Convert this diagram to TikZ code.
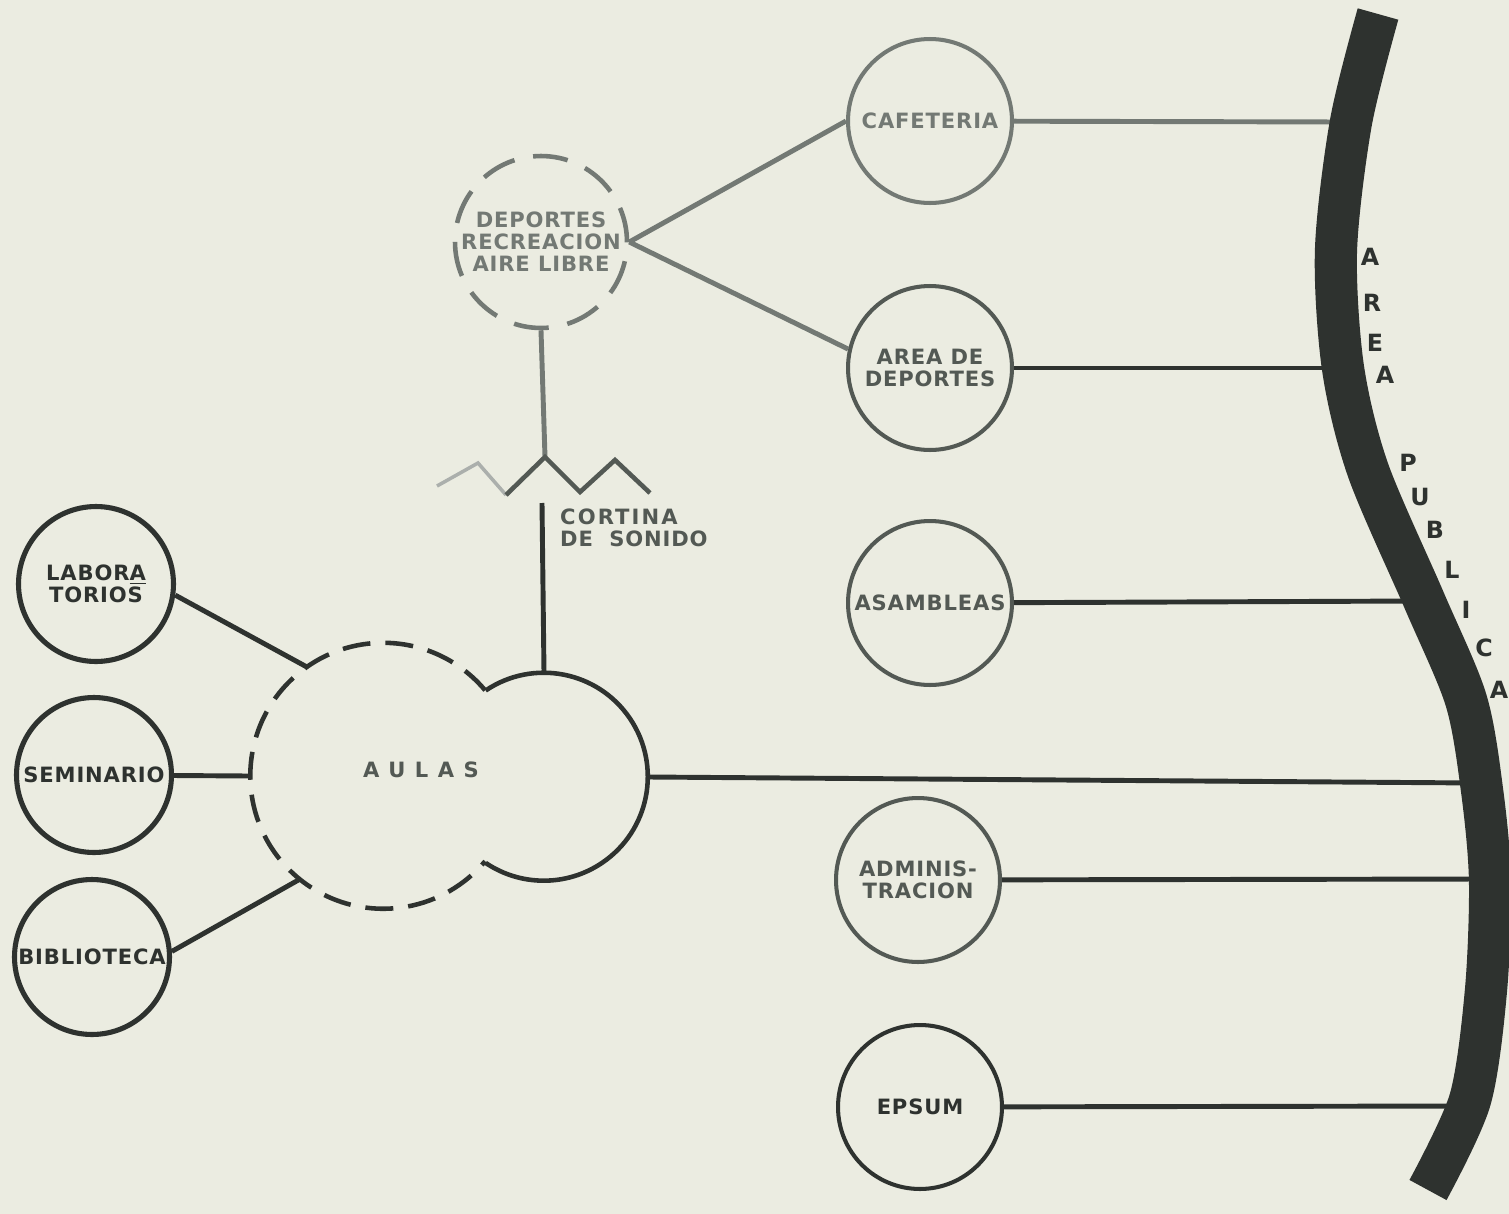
\documentclass[tikz,border=0pt]{standalone}
\usepackage{fontspec}
\setmainfont{DejaVu Sans}
\newfontfamily\stencil{DejaVu Sans}[LetterSpace=4]
\usetikzlibrary{positioning}
\definecolor{paper}{HTML}{EBECE1}
\definecolor{ink}{HTML}{2E322F}
\definecolor{inkgrey}{HTML}{535954}
\definecolor{inklight}{HTML}{737974}

\begin{document}
\begin{tikzpicture}[x=0.02cm,y=-0.02cm,
every node/.style={font=\stencil\bfseries\fontsize{12}{12.5}\selectfont},
room/.style={circle,draw=inkgrey,line width=2.3pt,minimum size=3.28cm,inner sep=0pt,align=center,text=inkgrey},
wing/.style={room,draw=ink,line width=2.9pt,minimum size=3.1cm,text=ink},
openroom/.style={room,draw=inklight,line width=2.6pt,dash pattern=on 0.7cm off 0.38cm,minimum size=3.44cm,text=inklight},
ghost/.style={circle,inner sep=0pt,draw=none},
link/.style={draw=ink,line width=2.8pt},
faint/.style={draw=inklight,line width=2.8pt},
ring/.style={draw=ink,line width=2.6pt},
dashring/.style={ring,dash pattern=on 0.56cm off 0.3cm},
publine/.style={draw=ink,line width=24pt,line cap=butt},
letter/.style={text=ink,font=\stencil\bfseries\fontsize{13.5}{13.5}\selectfont}
]
\useasboundingbox (0,0) rectangle (1509,1214);
\fill[paper] (0,0) rectangle (1509,1214);

% rooms
\node[openroom] (dep) at (541,242) {DEPORTES\\RECREACION\\AIRE LIBRE};
\node[room,draw=inklight,text=inklight] (caf) at (930,121) {CAFETERIA};
\node[room] (adep) at (930,368) {AREA DE\\DEPORTES};
\node[room] (asam) at (930,603) {ASAMBLEAS};
\node[room] (adm) at (918,880) {ADMINIS-\\TRACION};
\node[room,draw=ink,text=ink] (eps) at (920,1107) {EPSUM};
\node[wing] (lab) at (96,584) {LABOR\underline{A}\\TORIOS};
\node[wing] (sem) at (94,775) {SEMINARIO};
\node[wing] (bib) at (92,957) {BIBLIOTECA};

% aulas, two joined circles
\node[ghost,minimum size=5.32cm] (aulasL) at (383,776) {};
\node[ghost,minimum size=4.16cm] (aulasR) at (544,777) {};
\draw[dashring] (aulasL.40) arc[start angle=40,end angle=320,radius=2.66cm];
\draw[ring] (aulasR.124) arc[start angle=124,end angle=-124,radius=2.08cm];
\node[text=inkgrey] (aulas) at (421,770) {\addfontfeature{LetterSpace=45}AULAS};

% cortina de sonido
\coordinate (peak) at (545,457);
\coordinate (curtain) at (542,503);
\draw[faint] (dep.south) -- (peak);
\draw[faint,line width=2pt,draw=inklight!60] (437,486) -- (478,463) -- (506,495);
\draw[faint,draw=inkgrey,line width=2.6pt] (506,495) -- (peak) -- (580,492) -- (615,460) -- (650,493);
\node[text=inkgrey,anchor=north west,align=left] (cortina) at (554,503)
  {\addfontfeature{LetterSpace=10}CORTINA\\DE\ \ SONIDO};
\draw[link] (curtain) -- (aulasR.north);

\draw[faint] (dep.east) -- (caf.west);
\draw[faint] (dep.east) -- (adep.167);
\draw[link] (lab.-8) -- (aulasL.125);
\draw[link] (sem) -- (aulasL.180);
\draw[link] (bib.4) -- (aulasL.231);

% area publica
\coordinate (pubCaf) at (1345,122);
\coordinate (pubDep) at (1338,368);
\coordinate (pubAsam) at (1420,601);
\coordinate (pubAulas) at (1476,783);
\coordinate (pubAdm) at (1486,879);
\coordinate (pubEps) at (1466,1106);
\draw[faint] (caf) -- (pubCaf);
\draw[link] (adep) -- (pubDep);
\draw[link] (asam) -- (pubAsam);
\draw[link] (aulasR.east) -- (pubAulas);
\draw[link] (adm) -- (pubAdm);
\draw[link] (eps) -- (pubEps);
\draw[publine] plot[smooth] coordinates {(1378,14) (1351,122) (1336,250) (1343,368)
  (1368,470) (1424,600) (1466,700) (1482,790) (1490,880) (1486,990) (1470,1100) (1428,1190)};

\foreach \ch/\px/\py [count=\i] in {A/1370/257,R/1372/303,E/1375/343,A/1385/375,
  P/1408/463,U/1420/497,B/1435/530,L/1452/570,I/1466/610,C/1484/648,A/1499/690}
  \node[letter] (pub\i) at (\px,\py) {\ch};
\end{tikzpicture}
\end{document}
